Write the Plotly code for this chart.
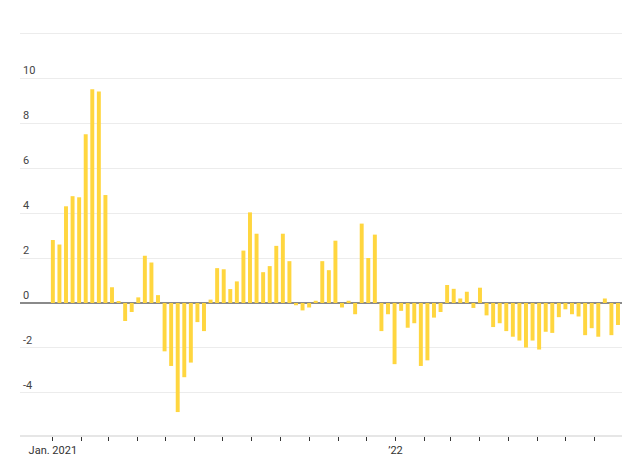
import pandas as pd
import plotly.graph_objects as go

# weekly net flows, $ billion
values = [2.8, 2.6, 4.3, 4.75, 4.7, 7.5, 9.5, 9.4, 4.8, 0.7,
          0.05, -0.8, -0.4, 0.25, 2.1, 1.8, 0.35, -2.15, -2.8, -4.85,
          -3.3, -2.65, -0.85, -1.25, 0.15, 1.55, 1.5, 0.62, 0.96, 2.33,
          4.03, 3.08, 1.37, 1.64, 2.54, 3.08, 1.86, -0.1, -0.33, -0.2,
          0.1, 1.86, 1.46, 2.77, -0.2, 0.1, -0.5, 3.53, 2.0, 3.04,
          -1.25, -0.5, -2.72, -0.35, -1.1, -0.9, -2.8, -2.55, -0.65, -0.4,
          0.8, 0.63, 0.2, 0.5, -0.22, 0.68, -0.55, -1.07, -0.9, -1.25,
          -1.5, -1.67, -1.98, -1.67, -2.07, -1.28, -1.33, -0.63, -0.28, -0.5,
          -0.6, -1.43, -1.12, -1.5, 0.2, -1.43, -0.98, -2.38]
dates = pd.date_range("2021-01-01", periods=len(values), freq="7D")
colors = ["#FFD63F"] * (len(values) - 1) + ["#0E9BD8"]

y_ticks = [12, 10, 8, 6, 4, 2, 0, -2, -4, -6]
y_labels = ["$12 billion", "10", "8", "6", "4", "2", "0", "-2", "-4", "-6"]

months = pd.date_range("2021-01-01", "2022-09-01", freq="MS")
month_labels = ["Jan. 2021" if m == pd.Timestamp("2021-01-01") else ("\u201922" if m == pd.Timestamp("2022-01-01") else "") for m in months]

fig = go.Figure(go.Bar(x=dates, y=values, marker_color=colors, marker_line_width=0, width=4.2 * 86400000))

fig.update_layout(
    width=630, height=460, margin=dict(l=12, r=5, t=15, b=33),
    plot_bgcolor="white", paper_bgcolor="white", showlegend=False,
    font=dict(family="Liberation Sans Narrow, Roboto, sans-serif", size=11, color="#333"),
)
fig.update_yaxes(range=[-5.87, 12.45], tickvals=y_ticks, ticktext=y_labels,
                 ticklabelposition="inside top", showgrid=True, gridcolor="#ececec", gridwidth=1,
                 zeroline=True, zerolinecolor="#8a8a8a", zerolinewidth=2, ticks="")
fig.update_xaxes(range=[pd.Timestamp("2020-11-27"), pd.Timestamp("2022-09-11")],
                 tickvals=months, ticktext=month_labels, ticks="outside", ticklen=4,
                 tickcolor="#333", showgrid=False, showline=True, linecolor="#e6e6e6", linewidth=2)

fig.write_html("out.html")
